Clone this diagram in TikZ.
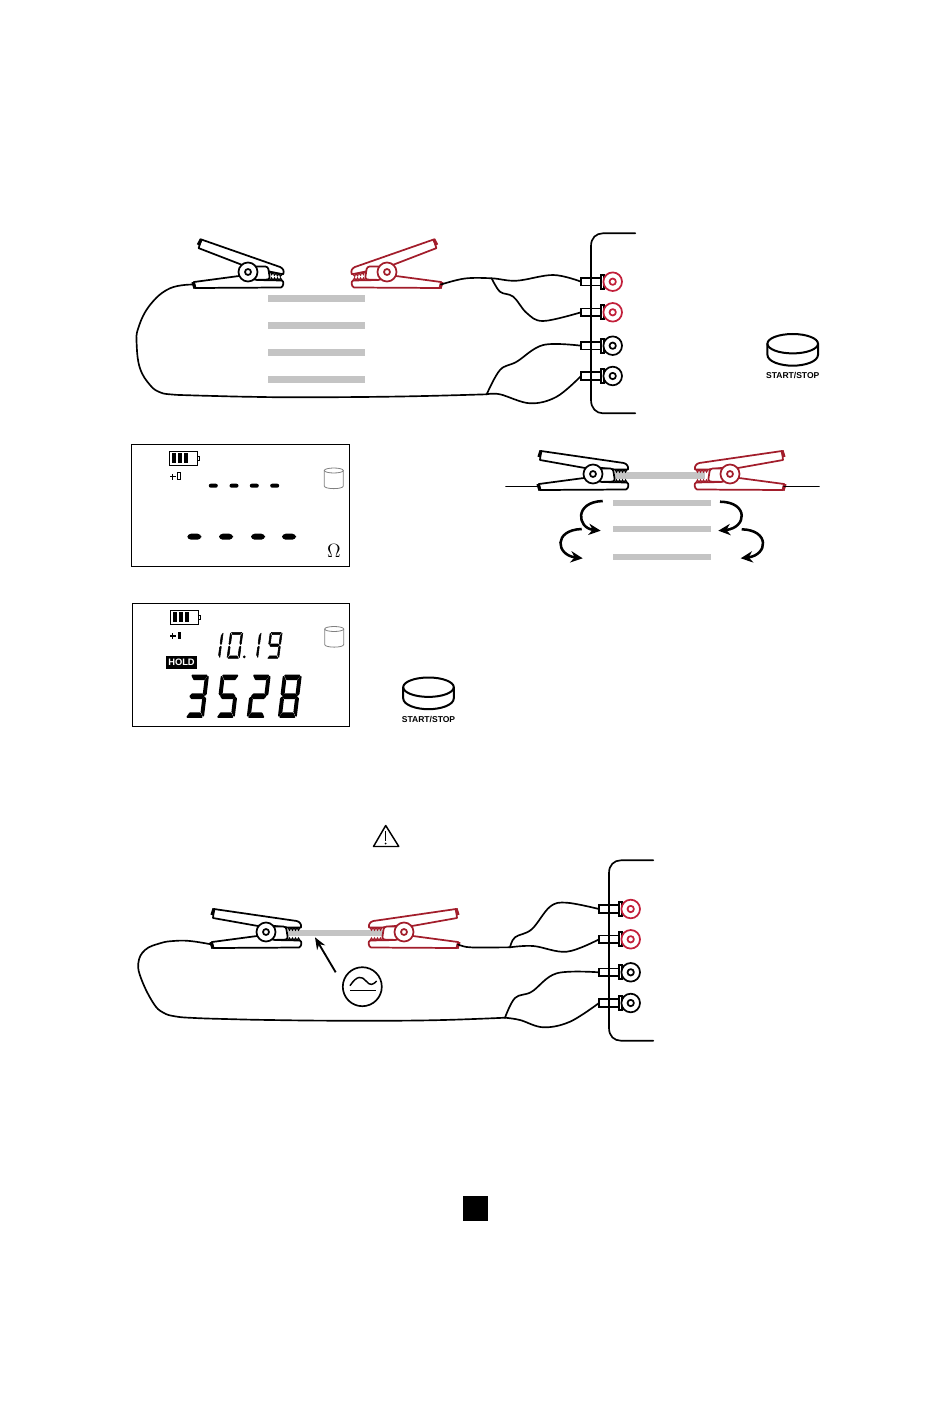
\documentclass[tikz,border=0pt]{standalone}
\usepackage{fontspec}
\usepackage{tikz}
\usetikzlibrary{arrows.meta}
\newfontfamily\panelfont{Liberation Sans}
\definecolor{clampred}{HTML}{A21D2B}
\definecolor{termred}{HTML}{C21F3A}
\definecolor{bargray}{HTML}{C4C4C4}

% lcd segments, box 1 by 1
\newcommand{\sega}{\path[lcdseg] (.10,0) -- (.90,0) -- (.78,.09) -- (.22,.09) -- cycle;}
\newcommand{\segb}{\path[lcdseg] (.98,.03) -- (.98,.44) -- (.92,.47) -- (.85,.42) -- (.85,.13) -- cycle;}
\newcommand{\segc}{\path[lcdseg] (.98,.97) -- (.98,.56) -- (.92,.53) -- (.85,.58) -- (.85,.87) -- cycle;}
\newcommand{\segd}{\path[lcdseg] (.10,1) -- (.90,1) -- (.78,.91) -- (.22,.91) -- cycle;}
\newcommand{\sege}{\path[lcdseg] (.02,.97) -- (.02,.56) -- (.08,.53) -- (.15,.58) -- (.15,.87) -- cycle;}
\newcommand{\segf}{\path[lcdseg] (.02,.03) -- (.02,.44) -- (.08,.47) -- (.15,.42) -- (.15,.13) -- cycle;}
\newcommand{\segg}{\path[lcdseg] (.12,.5) -- (.22,.45) -- (.78,.45) -- (.88,.5) -- (.78,.55) -- (.22,.55) -- cycle;}
\newcommand{\lcddigit}[7][]{%
    \begin{scope}[#1,shift={(#2,#3)},x={(#4*0.75pt,0pt)},y={(-#6*0.75pt,-#5*0.75pt)}]
        \foreach \segname in {#7} {\csname seg\segname\endcsname}
    \end{scope}}

\tikzset{
    wire/.style={line width=1.25pt,line cap=round},
    outline/.style={line width=1.3pt,line join=round},
    lcdbox/.style={line width=0.9pt},
    lcdbig/.style={lcdseg/.style={fill=black,draw=black,line width=1.2pt,line join=round}},
    lcdsmall/.style={lcdseg/.style={fill=black,draw=black,line width=0.4pt,line join=round}},
    rollarrow/.style={line width=1.9pt,-{Stealth[length=9pt,width=8.5pt]}},
    graybar/.style={fill=bargray},
    pics/clamp/.style={code={
        % upper arm
        \draw[outline,fill=white,rotate=#1] (-52,-23) -- (30.7,-11) .. controls (34,-10) and (35.5,-8) .. (35,-4.5)
            -- (22,-4.5) -- (9,-6) -- (-8,-6) -- (-53,-14) -- cycle;
        \draw[line width=2.4pt,rotate=#1] (-52,-23.5) -- (-54,-17);
        % block behind the jaws
        \draw[outline,fill=white,rounded corners=2pt] (6,-5.5) -- (20,-5.5) -- (22,7.5) -- (6,8) -- cycle;
        % lower arm
        \draw[outline,fill=white] (-54,10) -- (-9,4) -- (9,8) -- (34,8.5) .. controls (36,9.5) and (36,14) .. (33,15.5)
            -- (-53,16) -- cycle;
        \draw[line width=2.4pt] (-55,10) -- (-53,16.5);
        \foreach \t in {22,25,28,31} {
            \draw[line width=0.9pt,rotate=#1] (\t,-4.5) -- ++(1.5,2.5) -- ++(1.5,-2.5);
            \draw[line width=0.9pt] (\t,8.5) -- ++(1.5,-2.5) -- ++(1.5,2.5);
        }
        \draw[outline,fill=white] (0,0) circle (9.5);
        \draw[outline] (0,0) circle (3);
        \coordinate (-tail) at (-54,12.5);
    }},
    pics/terminal/.style={code={
        \draw[line width=1.1pt,fill=white] (-31.7,-3.8) rectangle (-12,3.8);
        \draw[line width=1.4pt,fill=white] (-12,-7) rectangle (-8.4,7);
        \draw[outline,draw=#1,fill=white] (0,0) circle (9.3);
        \draw[outline,draw=#1] (0,0) circle (3.2);
        \coordinate (-in) at (-31.7,0);
    }},
    pics/battery/.style={code={
        \draw[line width=1pt] (0,0) rectangle (28,14);
        \draw[line width=0.6pt] (28,5) rectangle (30,9);
        \foreach \x in {2.7,8.5,14.5} {\fill (\x,2) rectangle +(4,10);}
    }},
    pics/startstop/.style={code={
        \draw[line width=1.5pt] (0,0) ellipse [x radius=25.3,y radius=9.7];
        \draw[line width=1.5pt] (-25.3,0) -- (-25.3,11) .. controls (-25.3,18) and (-12,22) .. (0,22)
            .. controls (12,22) and (25.3,18) .. (25.3,11) -- (25.3,0);
        \node[font=\panelfont\bfseries\fontsize{6.4}{7}\selectfont,inner sep=0pt] (-label) at (0,32) {START/STOP};
    }},
    pics/drum/.style={code={
        \draw[gray,line width=0.6pt] (-9.5,2.5) -- (-9.5,18) .. controls (-9.5,21.5) and (9.5,21.5) .. (9.5,18) -- (9.5,2.5);
        \draw[gray,line width=0.6pt] (0,2.5) ellipse [x radius=9.5,y radius=2.5];
    }},
}

\begin{document}
\begin{tikzpicture}[x=0.75pt,y=-0.75pt]
\useasboundingbox (0,0) rectangle (950,1419);

% first setup
\begin{scope}
    \foreach \y in {295.3,322.3,349,376} {\fill[graybar] (267.7,\y) rectangle +(97.3,6.7);}
    \pic (clampA) at (248,272) {clamp=-11};
    \pic[color=clampred,xscale=-1] (clampB) at (387,272) {clamp=-11};

    \pic (termA) at (612.7,281.7) {terminal=termred};
    \pic (termB) at (612.7,312.3) {terminal=termred};
    \pic (termC) at (612.7,345.7) {terminal=black};
    \pic (termD) at (612.7,376) {terminal=black};
    \coordinate (forkA) at (491.7,278.3);
    \coordinate (forkB) at (486.7,394.3);

    \draw[wire] plot[smooth,tension=.6] coordinates {(clampB-tail) (465,278.5) (forkA) (516.7,280.7) (553.3,275) (termA-in)};
    \draw[wire] plot[smooth,tension=.6] coordinates {(forkA) (500,291.7) (513.3,296.7) (526.7,313) (543.3,321) (termB-in)};
    \draw[wire] plot[smooth,tension=.7] coordinates {(clampA-tail) (170,288.3) (150,305) (138.3,328) (136.7,345) (140,368.3) (150,385) (160,392.3) (172,394.5) (190,395.3) (215,396) (250,396.8) (303,397.3) (400,396.5) (forkB)};
    \draw[wire] plot[smooth,tension=.6] coordinates {(forkB) (500,370) (516.7,361.7) (543.3,345) (termC-in)};
    \draw[wire] plot[smooth,tension=.6] coordinates {(forkB) (500,394.3) (530,403.3) (556.7,396.7) (termD-in)};

    \draw[wire] (635.3,233.3) -- (603,233.3) .. controls (596,233.3) and (591,238) .. (591,246) -- (591,400)
        .. controls (591,408) and (596,413.3) .. (603,413.3) -- (635.3,413.3);
    \pic (buttonA) at (792.7,343.7) {startstop};
\end{scope}

% first display
\begin{scope}
    \draw[lcdbox] (131.3,444.3) rectangle (349.3,566.3);
    \pic at (169.3,451.3) {battery};
    \draw[line width=1pt] (170,476.7) -- (175.6,476.7) (172.8,473.9) -- (172.8,479.5);
    \draw[line width=0.7pt] (177.7,472.3) rectangle (180.7,479.3);
    \pic at (333.8,468) {drum};
    \foreach \x in {213.3,234,254.3,274.7} {\fill[rounded corners=1.5pt] (\x-4.5,483.7) rectangle +(9,4);}
    \foreach \x in {194.3,226,258,289} {\fill[rounded corners=2.8pt] (\x-7,533.7) rectangle +(14,6);}
    \node[font=\fontsize{14}{14}\selectfont,inner sep=0pt] (unitA) at (334,550.7) {$\Omega$};
\end{scope}

% second setup
\begin{scope}
    \fill[graybar] (615,472.3) rectangle (705,479);
    \foreach \y in {500,526.3,553.7} {\fill[graybar] (613.3,\y) rectangle +(97.4,6);}
    \pic (clampC) at (593,474) {clamp=0};
    \pic[color=clampred,xscale=-1] (clampD) at (730,474) {clamp=0};
    \coordinate (endC) at (506,486.5);
    \coordinate (endD) at (819,486.5);
    \draw[wire] (endC) -- (clampC-tail);
    \draw[wire] (clampD-tail) -- (endD);

    \coordinate (rollA) at (602.7,501);
    \coordinate (rollB) at (600.7,530.7);
    \coordinate (rollC) at (581.7,529);
    \coordinate (rollD) at (582.7,558.3);
    \coordinate (rollE) at (720,501.7);
    \coordinate (rollF) at (718.3,530.7);
    \coordinate (rollG) at (741.7,529.3);
    \coordinate (rollH) at (740.7,558.3);
    \draw[rollarrow] (rollA) .. controls (574,502) and (577,528) .. (rollB);
    \draw[rollarrow] (rollC) .. controls (553,530) and (556,555) .. (rollD);
    \draw[rollarrow] (rollE) .. controls (749,502) and (747,528) .. (rollF);
    \draw[rollarrow] (rollG) .. controls (770,530) and (768,555) .. (rollH);
\end{scope}

% second display
\begin{scope}
    \draw[lcdbox] (132.3,603.3) rectangle (349.3,726.3);
    \pic at (170.7,610.3) {battery};
    \draw[line width=1pt] (170,636) -- (175.6,636) (172.8,633.2) -- (172.8,638.8);
    \fill (178.3,631.7) rectangle +(2.2,7.6);
    \pic at (334.2,626.5) {drum};
    \node[fill=black,text=white,font=\panelfont\bfseries\fontsize{7}{7}\selectfont,inner sep=0pt,
        minimum width=23.25pt,minimum height=9.75pt] (holdflag) at (181.5,662.2) {HOLD};

    \lcddigit[lcdsmall]{211}{632.3}{12.5}{26}{3.5}{b,c}
    \lcddigit[lcdsmall]{230.2}{632.3}{13}{26}{3.5}{a,b,c,d,e,f}
    \fill (244.3,656.8) circle (1.5);
    \lcddigit[lcdsmall]{249}{632.3}{12.5}{26}{3.5}{b,c}
    \lcddigit[lcdsmall]{270}{632.3}{12.5}{26}{3.5}{a,b,c,d,f,g}

    \lcddigit[lcdbig]{190.5}{675.5}{18}{41.5}{5}{a,b,g,c,d}
    \lcddigit[lcdbig]{221.3}{675.5}{18}{41.5}{5}{a,f,g,c,d}
    \lcddigit[lcdbig]{252.2}{675.5}{18}{41.5}{5}{a,b,g,e,d}
    \lcddigit[lcdbig]{283.3}{675.5}{18}{41.5}{5}{a,b,c,d,e,f,g}

    \pic (buttonB) at (428.5,687.2) {startstop};
\end{scope}

% warning sign
\draw[line width=1.1pt,line join=round] (385.7,825.5) -- (373.5,846.5) -- (398.8,846.5) -- cycle;
\draw[line width=1.1pt] (385.7,831) -- (385.7,841);
\fill (385.7,843.5) circle (1);

% third setup
\begin{scope}
    \fill[graybar] (288.3,930.3) rectangle (383.3,936.3);
    \pic (clampE) at (266,932) {clamp=0};
    \pic[color=clampred,xscale=-1] (clampF) at (404,932) {clamp=0};

    \node[circle,draw,line width=1.25pt,inner sep=0pt,minimum size=29.25pt] (source) at (362.3,986.7) {};
    \draw[line width=1.1pt] (350,985.7) .. controls (357,975) and (362,976) .. (366,981) .. controls (370,986) and (373,985) .. (376.7,981);
    \draw[line width=1.1pt] (350,990.7) -- (376,990.7);
    \coordinate (sourcetip) at (335.7,972.3);
    \coordinate (bartip) at (315,937.3);
    \draw[line width=1.4pt,-{Stealth[length=9pt,width=7pt]}] (sourcetip) -- (bartip);

    \pic (termE) at (630.7,909) {terminal=termred};
    \pic (termF) at (630.7,939.3) {terminal=termred};
    \pic (termG) at (630.7,972.3) {terminal=black};
    \pic (termH) at (630.7,1003) {terminal=black};
    \coordinate (forkE) at (510,947.3);
    \coordinate (forkF) at (505,1017.7);

    \draw[wire] plot[smooth,tension=.6] coordinates {(clampF-tail) (466.7,947) (480,947.5) (forkE)};
    \draw[wire] plot[smooth,tension=.6] coordinates {(forkE) (515,937.3) (531.7,929.3) (550,906.7) (566.7,902.7) (termE-in)};
    \draw[wire] plot[smooth,tension=.6] coordinates {(forkE) (533.3,946) (566.7,951.7) (termF-in)};
    \draw[wire] plot[smooth,tension=.7] coordinates {(clampE-tail) (190,941) (173.3,941) (160,943.3) (145,950) (138.3,963.3) (141.7,980) (153.3,1003) (163,1012.5) (176,1016.5) (195,1018) (225,1019) (270,1020) (340,1020.7) (430,1020.3) (forkF)};
    \draw[wire] plot[smooth,tension=.6] coordinates {(forkF) (515,998) (531.7,991.7) (556.7,973.3) (termG-in)};
    \draw[wire] plot[smooth,tension=.6] coordinates {(forkF) (520,1020) (543.3,1027.3) (570,1021.7) (termH-in)};

    \draw[wire] (653.3,860.3) -- (621,860.3) .. controls (614,860.3) and (609,865) .. (609,873) -- (609,1028)
        .. controls (609,1036) and (614,1040.7) .. (621,1040.7) -- (653.3,1040.7);
\end{scope}

% end mark
\fill (462.7,1196) rectangle (487.7,1221);
\end{tikzpicture}
\end{document}
